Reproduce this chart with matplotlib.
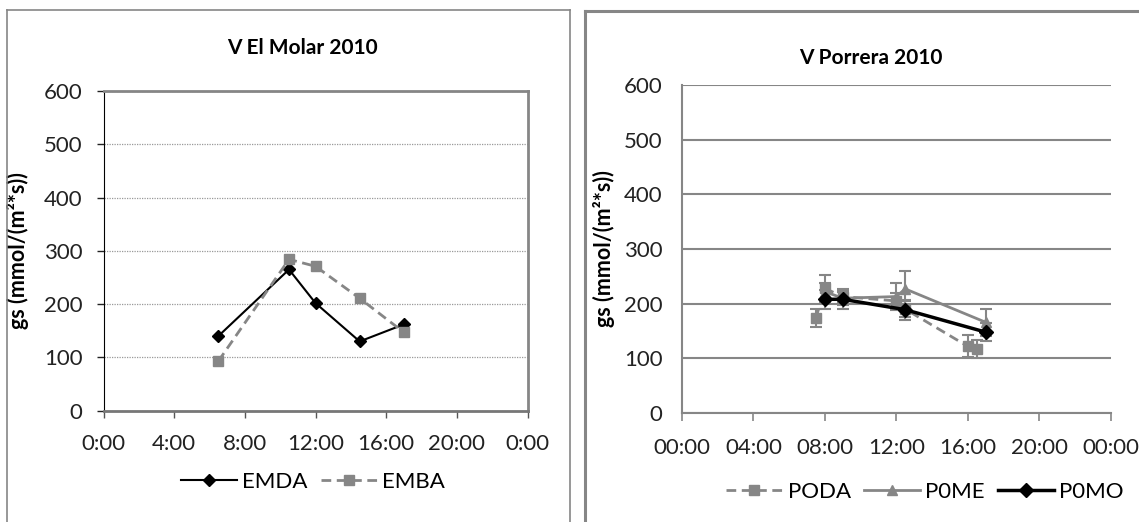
import matplotlib
matplotlib.use('Agg')
import matplotlib.pyplot as plt
from matplotlib.lines import Line2D

plt.rcParams['font.family'] = ['Lato', 'DejaVu Sans']

# hours of the day as decimal numbers
xticks = [0, 4, 8, 12, 16, 20, 24]
xlabelsLeft = ['0:00', '4:00', '8:00', '12:00', '16:00', '20:00', '0:00']
xlabelsRight = ['00:00', '04:00', '08:00', '12:00', '16:00', '20:00', '00:00']
yticks = [0, 100, 200, 300, 400, 500, 600]

# V El Molar 2010
emTimes = [6.5, 10.5, 12.0, 14.5, 17.0]
emda = [140, 265, 202, 130, 162]
emba = [93, 284, 271, 211, 147]

# V Porrera 2010
podaTimes = [7.5, 8.0, 9.0, 12.0, 12.5, 16.0, 16.5]
poda = [174, 228, 213, 205, 190, 122, 117]
podaErr = [17, 25, 10, 15, 15, 20, 17]
pomeTimes = [8.0, 9.0, 12.0, 12.5, 17.0]
pome = [222, 210, 213, 227, 166]
pomeErr = [15, 12, 25, 33, 25]
pomoTimes = [8.0, 9.0, 12.5, 17.0]
pomo = [208, 208, 189, 148]
pomoErr = [17, 18, 18, 17]

gray = '#868686'
W, H = 1139, 522
fig = plt.figure(figsize=(W / 100, H / 100), dpi=100)

def box(x0, y0, x1, y1):
    # pixel box -> figure fraction
    return [x0 / W, 1 - y1 / H, (x1 - x0) / W, (y1 - y0) / H]

# panel borders
fig.add_artist(Line2D([7 / W, 7 / W], [0, 1 - 10 / H], color=gray, lw=1.2))
fig.add_artist(Line2D([7 / W, 570 / W], [1 - 10 / H, 1 - 10 / H], color=gray, lw=1.2))
fig.add_artist(Line2D([570 / W, 570 / W], [0, 1 - 10 / H], color=gray, lw=1.2))
fig.add_artist(Line2D([585 / W, 585 / W], [0, 1 - 11 / H], color=gray, lw=2.2))
fig.add_artist(Line2D([585 / W, 1], [1 - 11 / H, 1 - 11 / H], color=gray, lw=2.2))

# left chart
ax1 = fig.add_axes(box(103.5, 91, 527.5, 410.7))
l1, = ax1.plot(emTimes, emda, color='black', lw=1.5, marker='D', ms=6, label='EMDA')
l2, = ax1.plot(emTimes, emba, color=gray, lw=2, ls=(0, (3.5, 2)), marker='s', ms=7, label='EMBA')
ax1.set_xlim(0, 24)
ax1.set_ylim(0, 600)
ax1.set_xticks(xticks)
ax1.set_xticklabels(xlabelsLeft)
ax1.set_yticks(yticks)
ax1.tick_params(labelsize=16, colors='#222222', length=5, width=1)
ax1.tick_params(axis='x', color='#555555', pad=12)
ax1.tick_params(axis='y', pad=10)
ax1.yaxis.grid(True, color='#999999', ls=(0, (1, 1)), lw=0.9)
ax1.set_axisbelow(True)
ax1.spines['left'].set_color('black')
ax1.spines['bottom'].set_color('#777777')
ax1.spines['bottom'].set_linewidth(2)
for s in ['top', 'right']:
    ax1.spines[s].set_color(gray)
    ax1.spines[s].set_linewidth(2)
ax1.set_ylabel('gs (mmol/(m²*s))', fontsize=15.5, fontweight='bold')
ax1.yaxis.set_label_coords(-0.176, 0.5)
fig.text(302 / W, 1 - 48 / H, 'V El Molar 2010', ha='center', va='center', fontsize=15, fontweight='bold')
fig.legend(handles=[l1, l2], loc='center', bbox_to_anchor=(313 / W, 1 - 482 / H), ncol=2,
           frameon=False, fontsize=16, handlelength=2.5, columnspacing=0.6, handletextpad=0.25)

# right chart
ax2 = fig.add_axes(box(682, 85, 1110.6, 413))
ax2.errorbar(podaTimes, poda, yerr=podaErr, color=gray, lw=2, ls=(0, (3.5, 2)), marker='s', ms=7,
             capsize=4, elinewidth=1.5, capthick=1.5)
ax2.errorbar(pomeTimes, pome, yerr=pomeErr, color=gray, lw=2, marker='^', ms=7,
             capsize=4, elinewidth=1.5, capthick=1.5)
ax2.errorbar(pomoTimes, pomo, yerr=pomoErr, color='black', lw=2.5, marker='D', ms=7, ecolor=gray,
             capsize=4, elinewidth=1.5, capthick=1.5)
ax2.set_xlim(0, 24)
ax2.set_ylim(0, 600)
ax2.set_xticks(xticks)
ax2.set_xticklabels(xlabelsRight)
ax2.set_yticks(yticks)
ax2.tick_params(labelsize=16, colors='#222222')
ax2.tick_params(axis='x', color=gray, length=6, width=1.2, pad=12)
ax2.tick_params(axis='y', length=0, pad=14)
ax2.yaxis.grid(True, color=gray, lw=1.5)
ax2.set_axisbelow(True)
for s in ['left', 'bottom']:
    ax2.spines[s].set_color(gray)
    ax2.spines[s].set_linewidth(1.5)
for s in ['top', 'right']:
    ax2.spines[s].set_visible(False)
ax2.set_ylabel('gs (mmol/(m²*s))', fontsize=15.5, fontweight='bold')
ax2.yaxis.set_label_coords(-0.156, 0.5)
fig.text(871 / W, 1 - 58 / H, 'V Porrera 2010', ha='center', va='center', fontsize=15, fontweight='bold')
handles = [Line2D([], [], color=gray, lw=2, ls=(0, (3.5, 2)), marker='s', ms=7),
           Line2D([], [], color=gray, lw=2, marker='^', ms=7),
           Line2D([], [], color='black', lw=2.5, marker='D', ms=7)]
fig.legend(handles, ['PODA', 'P0ME', 'P0MO'], loc='center', bbox_to_anchor=(925 / W, 1 - 492 / H), ncol=3,
           frameon=False, fontsize=16, handlelength=2.5, columnspacing=0.6, handletextpad=0.25)

fig.savefig('out.png', dpi=100)
